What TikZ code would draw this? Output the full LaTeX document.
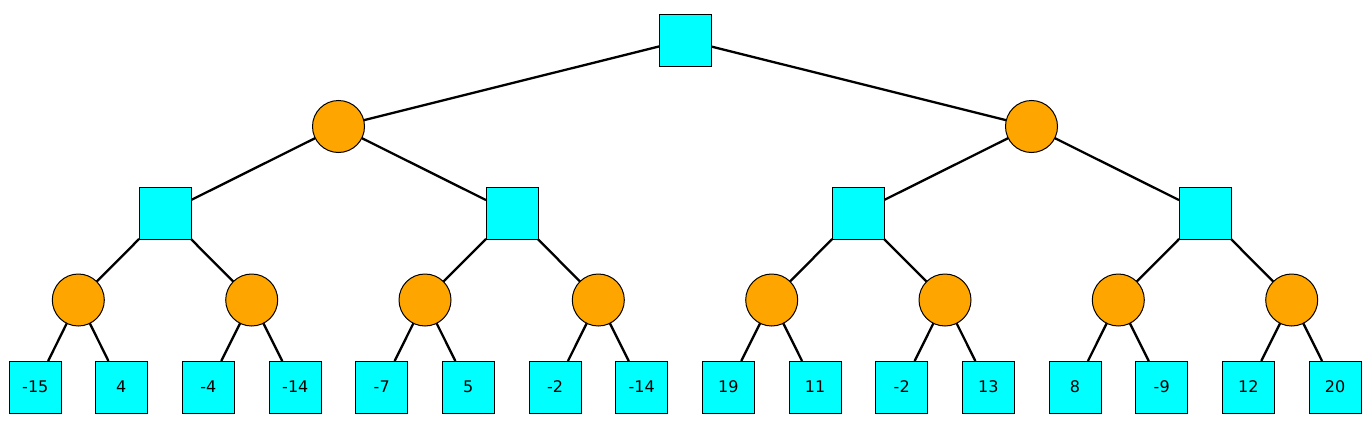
\documentclass[tikz,border=0pt]{standalone}
\usepackage{fontspec}
\setmainfont{DejaVu Sans}
\usetikzlibrary{backgrounds}
\definecolor{sqcyan}{RGB}{0,255,255}
\definecolor{crorange}{RGB}{255,165,0}
\tikzset{
  maxnode/.style={draw=black, line width=1pt, fill=sqcyan, rectangle, minimum size=52pt, inner sep=0pt, outer sep=0pt, font=\fontsize{16}{18}\selectfont},
  minnode/.style={draw=black, line width=1pt, fill=crorange, circle, minimum size=52pt, inner sep=0pt, outer sep=0pt},
  treeedge/.style={draw=black, line width=2.3pt}
}
\begin{document}
\begin{tikzpicture}[x=1pt,y=-1pt]
\useasboundingbox (0,0) rectangle (1371,423);
% root
\node[maxnode] (r) at (685,40) {};
% level 1
\node[minnode] (a) at (338.5,126.5) {};
\node[minnode] (b) at (1031.5,126.5) {};
% level 2
\node[maxnode] (aa) at (165,213) {};
\node[maxnode] (ab) at (512,213) {};
\node[maxnode] (ba) at (858,213) {};
\node[maxnode] (bb) at (1205,213) {};
% level 3
\node[minnode] (c1) at (78.3,300) {};
\node[minnode] (c2) at (251.7,300) {};
\node[minnode] (c3) at (425,300) {};
\node[minnode] (c4) at (598.3,300) {};
\node[minnode] (c5) at (771.7,300) {};
\node[minnode] (c6) at (945,300) {};
\node[minnode] (c7) at (1118.3,300) {};
\node[minnode] (c8) at (1291.7,300) {};
% leaves
\node[maxnode] (l1) at (35.3,387) {-15};
\node[maxnode] (l2) at (121.3,387) {4};
\node[maxnode] (l3) at (208.3,387) {-4};
\node[maxnode] (l4) at (295.3,387) {-14};
\node[maxnode] (l5) at (381.7,387) {-7};
\node[maxnode] (l6) at (468.3,387) {5};
\node[maxnode] (l7) at (555,387) {-2};
\node[maxnode] (l8) at (641.7,387) {-14};
\node[maxnode] (l9) at (728.3,387) {19};
\node[maxnode] (l10) at (815,387) {11};
\node[maxnode] (l11) at (901.7,387) {-2};
\node[maxnode] (l12) at (988.3,387) {13};
\node[maxnode] (l13) at (1075,387) {8};
\node[maxnode] (l14) at (1161.7,387) {-9};
\node[maxnode] (l15) at (1248.3,387) {12};
\node[maxnode] (l16) at (1335,387) {20};
% edges
\begin{scope}[on background layer]
\draw[treeedge] (r) -- (a);
\draw[treeedge] (r) -- (b);
\draw[treeedge] (a) -- (aa);
\draw[treeedge] (a) -- (ab);
\draw[treeedge] (b) -- (ba);
\draw[treeedge] (b) -- (bb);
\draw[treeedge] (aa) -- (c1);
\draw[treeedge] (aa) -- (c2);
\draw[treeedge] (ab) -- (c3);
\draw[treeedge] (ab) -- (c4);
\draw[treeedge] (ba) -- (c5);
\draw[treeedge] (ba) -- (c6);
\draw[treeedge] (bb) -- (c7);
\draw[treeedge] (bb) -- (c8);
\draw[treeedge] (c1) -- (l1);
\draw[treeedge] (c1) -- (l2);
\draw[treeedge] (c2) -- (l3);
\draw[treeedge] (c2) -- (l4);
\draw[treeedge] (c3) -- (l5);
\draw[treeedge] (c3) -- (l6);
\draw[treeedge] (c4) -- (l7);
\draw[treeedge] (c4) -- (l8);
\draw[treeedge] (c5) -- (l9);
\draw[treeedge] (c5) -- (l10);
\draw[treeedge] (c6) -- (l11);
\draw[treeedge] (c6) -- (l12);
\draw[treeedge] (c7) -- (l13);
\draw[treeedge] (c7) -- (l14);
\draw[treeedge] (c8) -- (l15);
\draw[treeedge] (c8) -- (l16);
\end{scope}
\end{tikzpicture}
\end{document}
